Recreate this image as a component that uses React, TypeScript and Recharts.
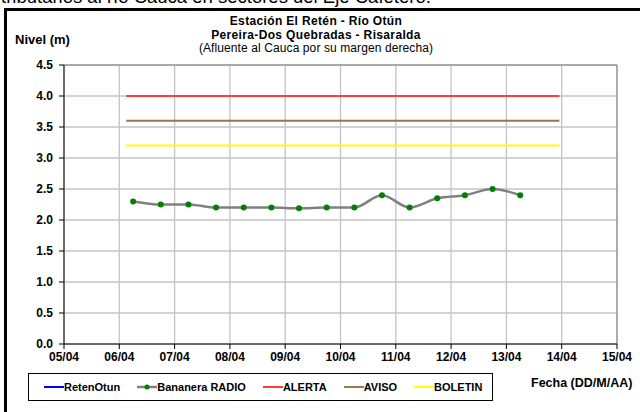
import { LineChart, Line, XAxis, YAxis, CartesianGrid, ReferenceLine } from 'recharts';

// fechas del eje X (dias desde 05/04)
const DAY_LABELS = ['05/04', '06/04', '07/04', '08/04', '09/04', '10/04', '11/04', '12/04', '13/04', '14/04', '15/04'];
const Y_TICKS = [0, 0.5, 1, 1.5, 2, 2.5, 3, 3.5, 4, 4.5];

// Bananera RADIO
const RADIO_TIMES = [
    '06/04 06:00', '06/04 18:00', '07/04 06:00', '07/04 18:00', '08/04 06:00',
    '08/04 18:00', '09/04 06:00', '09/04 18:00', '10/04 06:00', '10/04 18:00',
    '11/04 06:00', '11/04 18:00', '12/04 06:00', '12/04 18:00', '13/04 06:00',
];
const RADIO_LEVELS = [2.3, 2.25, 2.25, 2.2, 2.2, 2.2, 2.19, 2.2, 2.2, 2.4, 2.2, 2.35, 2.4, 2.5, 2.4];

// RetenOtun: sin datos en el periodo
const RETEN_TIMES: string[] = [];
const RETEN_LEVELS: number[] = [];

// umbrales
const THRESHOLD_SPAN = ['06/04 03:00', '13/04 23:00'];
const ALERTA = 4.0;
const AVISO = 3.6;
const BOLETIN = 3.2;

const TITLE_LINES = [
    { text: 'Estación El Retén - Río Otún', bold: true },
    { text: 'Pereira-Dos Quebradas - Risaralda', bold: true },
    { text: '(Afluente al Cauca por su margen derecha)', bold: false },
];

const FONT = 'Arial, "Liberation Sans", sans-serif';

const toDay = (s: string) => {
    const [date, time] = s.split(' ');
    const [dd] = date.split('/').map(Number);
    const [hh, mm] = time.split(':').map(Number);
    return dd - 5 + hh / 24 + mm / 1440;
};

const radioData = RADIO_TIMES.map((t, i) => ({ t: toDay(t), v: RADIO_LEVELS[i] }));
const retenData = RETEN_TIMES.map((t, i) => ({ t: toDay(t), v: RETEN_LEVELS[i] }));
const flat = (v: number) => THRESHOLD_SPAN.map((t) => ({ t: toDay(t), v }));

const LEGEND = [
    { name: 'RetenOtun', color: '#0000FF', dot: false },
    { name: 'Bananera RADIO', color: '#808080', dot: true },
    { name: 'ALERTA', color: '#FF3B3B', dot: false },
    { name: 'AVISO', color: '#9A7552', dot: false },
    { name: 'BOLETIN', color: '#FFFF00', dot: false },
];

const tickStyle = { fontSize: 12, fontWeight: 700, fill: '#000', fontFamily: FONT };

export default function App() {
    return (
        <div
            style={{
                position: 'fixed',
                left: 0,
                top: 0,
                width: 640,
                height: 412,
                overflow: 'hidden',
                background: '#fff',
                fontFamily: FONT,
            }}
        >
            <div
                style={{
                    position: 'absolute',
                    left: 1,
                    top: -14,
                    fontSize: 18.5,
                    lineHeight: '22px',
                    whiteSpace: 'nowrap',
                    color: '#000',
                }}
            >
                tributarios al río Cauca en sectores del Eje Cafetero.
            </div>
            <div
                style={{
                    position: 'absolute',
                    left: 4,
                    top: 8,
                    width: 700,
                    height: 500,
                    borderLeft: '3px solid #000',
                    borderTop: '3px solid #000',
                }}
            />

            <div style={{ position: 'absolute', left: 0, top: 0 }}>
                <LineChart width={640} height={412} margin={{ top: 65, right: 23, bottom: 48, left: 24 }}>
                    <CartesianGrid stroke="#C4C4C4" strokeWidth={1.3} />
                    <XAxis
                        type="number"
                        dataKey="t"
                        domain={[0, 10]}
                        ticks={DAY_LABELS.map((_, i) => i)}
                        tickFormatter={(v: number) => DAY_LABELS[v]}
                        allowDataOverflow
                        height={20}
                        tick={tickStyle}
                        tickSize={5}
                        tickMargin={3}
                        axisLine={{ stroke: '#000' }}
                        tickLine={{ stroke: '#000' }}
                    />
                    <YAxis
                        type="number"
                        domain={[0, 4.5]}
                        ticks={Y_TICKS}
                        tickFormatter={(v: number) => v.toFixed(1)}
                        allowDataOverflow
                        width={40}
                        tick={tickStyle}
                        tickSize={5}
                        tickMargin={6}
                        axisLine={{ stroke: '#000' }}
                        tickLine={{ stroke: '#000' }}
                    />
                    <ReferenceLine y={4.5} stroke="#808080" />
                    <ReferenceLine x={10} stroke="#808080" />
                    <Line
                        data={retenData}
                        dataKey="v"
                        name="RetenOtun"
                        stroke="#0000FF"
                        strokeWidth={2}
                        dot={false}
                        isAnimationActive={false}
                    />
                    <Line
                        data={flat(ALERTA)}
                        dataKey="v"
                        name="ALERTA"
                        stroke="#FF3B3B"
                        strokeWidth={2}
                        dot={false}
                        isAnimationActive={false}
                    />
                    <Line
                        data={flat(AVISO)}
                        dataKey="v"
                        name="AVISO"
                        stroke="#9A7552"
                        strokeWidth={2}
                        dot={false}
                        isAnimationActive={false}
                    />
                    <Line
                        data={flat(BOLETIN)}
                        dataKey="v"
                        name="BOLETIN"
                        stroke="#FFFF00"
                        strokeWidth={2}
                        dot={false}
                        isAnimationActive={false}
                    />
                    <Line
                        data={radioData}
                        dataKey="v"
                        name="Bananera RADIO"
                        type="monotone"
                        stroke="#808080"
                        strokeWidth={2.5}
                        dot={{ r: 3, fill: '#008000', stroke: 'none' }}
                        isAnimationActive={false}
                    />
                </LineChart>
            </div>

            {TITLE_LINES.map((line, i) => (
                <div
                    key={line.text}
                    style={{
                        position: 'absolute',
                        left: 0,
                        width: 632,
                        top: 15.2 + i * 13.4,
                        height: 13.4,
                        textAlign: 'center',
                        fontSize: 12,
                        lineHeight: '13.4px',
                        letterSpacing: line.bold ? 0.35 : 0.1,
                        fontWeight: line.bold ? 700 : 400,
                        color: '#000',
                    }}
                >
                    {line.text}
                </div>
            ))}
            <div style={{ position: 'absolute', left: 15, top: 32, fontSize: 13, lineHeight: '16px', fontWeight: 700 }}>
                Nivel (m)
            </div>
            <div style={{ position: 'absolute', left: 531, top: 376, fontSize: 12.5, fontWeight: 700, whiteSpace: 'nowrap' }}>
                Fecha (DD/M/AA)
            </div>

            <div
                style={{
                    position: 'absolute',
                    left: 28,
                    top: 373,
                    width: 465,
                    height: 28,
                    boxSizing: 'border-box',
                    border: '1px solid #000',
                    display: 'flex',
                    alignItems: 'center',
                    paddingLeft: 15,
                    gap: 17,
                    fontSize: 11,
                    fontWeight: 700,
                }}
            >
                {LEGEND.map((item) => (
                    <div key={item.name} style={{ display: 'flex', alignItems: 'center', whiteSpace: 'nowrap' }}>
                        <svg width={20} height={8} style={{ display: 'block' }}>
                            <line x1={0} y1={4} x2={20} y2={4} stroke={item.color} strokeWidth={item.dot ? 2.5 : 2} />
                            {item.dot && <circle cx={10} cy={4} r={2.5} fill="#008000" />}
                        </svg>
                        <span>{item.name}</span>
                    </div>
                ))}
            </div>
        </div>
    );
}
